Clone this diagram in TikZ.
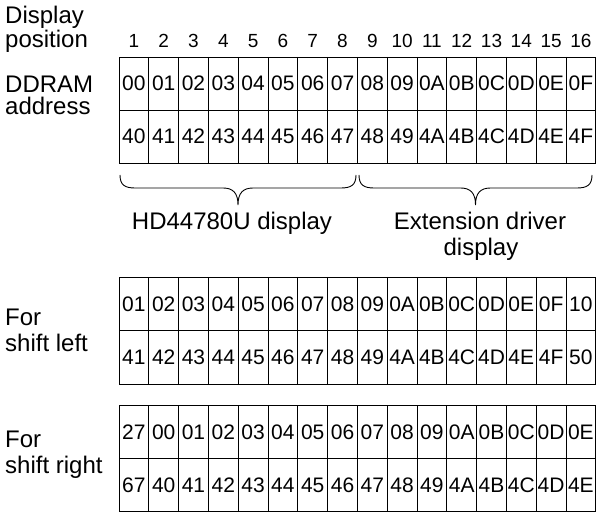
\documentclass[tikz,border=0pt]{standalone}
\usepackage{fontspec}
\setmainfont{Liberation Sans}
\begin{document}
\begin{tikzpicture}[x=1pt,y=-1pt,
  lbl/.style={anchor=base west,inner sep=0pt,font=\fontsize{24}{28}\selectfont},
  mid/.style={anchor=base,inner sep=0pt,font=\fontsize{24}{28}\selectfont},
  cell/.style={anchor=base,inner sep=0pt,font=\fontsize{21}{24}\selectfont},
  colnum/.style={anchor=base,inner sep=0pt,font=\fontsize{19}{22}\selectfont},
  gridline/.style={line width=0.9pt,draw=black},
  bracepath/.style={line width=0.9pt,draw=black}]
\useasboundingbox (0,0) rectangle (599,518);

% left labels
\node[lbl] (disp) at (5,24) {Display};
\node[lbl] (pos) at (5,48) {position};
\node[lbl] (ddram) at (5,93) {DDRAM};
\node[lbl] (addr) at (5,115) {address};
\node[lbl] (forA) at (5,325) {For};
\node[lbl] (sl) at (5,351) {shift left};
\node[lbl] (forB) at (5,447) {For};
\node[lbl] (sr) at (5,473) {shift right};

% column numbers
\foreach \i in {1,...,16}
  \node[colnum] (n\i) at ({119+(\i-0.5)*29.8},48) {\i};

% grids
\foreach \T/\M/\B in {57/110/163, 277/330.5/384, 405/458.3/511.7}{
  \draw[gridline] (119,\T) rectangle (595.8,\B);
  \draw[gridline] (119,\M) -- (595.8,\M);
  \foreach \k in {1,...,15}
    \draw[gridline] ({119+\k*29.8},\T) -- ({119+\k*29.8},\B);
}

% grid 1
\foreach \t [count=\i] in {00,01,02,03,04,05,06,07,08,09,0A,0B,0C,0D,0E,0F}
  \node[cell] (pa\i) at ({119+(\i-0.5)*29.8},91) {\t};
\foreach \t [count=\i] in {40,41,42,43,44,45,46,47,48,49,4A,4B,4C,4D,4E,4F}
  \node[cell] (pb\i) at ({119+(\i-0.5)*29.8},144) {\t};
% grid 2
\foreach \t [count=\i] in {01,02,03,04,05,06,07,08,09,0A,0B,0C,0D,0E,0F,10}
  \node[cell] (la\i) at ({119+(\i-0.5)*29.8},311.3) {\t};
\foreach \t [count=\i] in {41,42,43,44,45,46,47,48,49,4A,4B,4C,4D,4E,4F,50}
  \node[cell] (lb\i) at ({119+(\i-0.5)*29.8},364.8) {\t};
% grid 3
\foreach \t [count=\i] in {27,00,01,02,03,04,05,06,07,08,09,0A,0B,0C,0D,0E}
  \node[cell] (ra\i) at ({119+(\i-0.5)*29.8},439.2) {\t};
\foreach \t [count=\i] in {67,40,41,42,43,44,45,46,47,48,49,4A,4B,4C,4D,4E}
  \node[cell] (rb\i) at ({119+(\i-0.5)*29.8},492.5) {\t};

% braces
\draw[bracepath] (120,175) .. controls (120,185) and (125,188) .. (135,188) -- (223,188)
  .. controls (233,188) and (238,193) .. (238,205)
  .. controls (238,193) and (243,188) .. (253,188) -- (341,188)
  .. controls (351,188) and (356,185) .. (356,175);
\draw[bracepath] (359,175) .. controls (359,185) and (364,188) .. (374,188) -- (460.5,188)
  .. controls (470.5,188) and (475.5,193) .. (475.5,205)
  .. controls (475.5,193) and (480.5,188) .. (490.5,188) -- (577,188)
  .. controls (587,188) and (592,185) .. (592,175);

% brace labels
\node[mid] (hd) at (232,230) {HD44780U display};
\node[mid] (extA) at (480,230) {Extension driver};
\node[mid] (extB) at (481,256) {display};
\end{tikzpicture}
\end{document}
